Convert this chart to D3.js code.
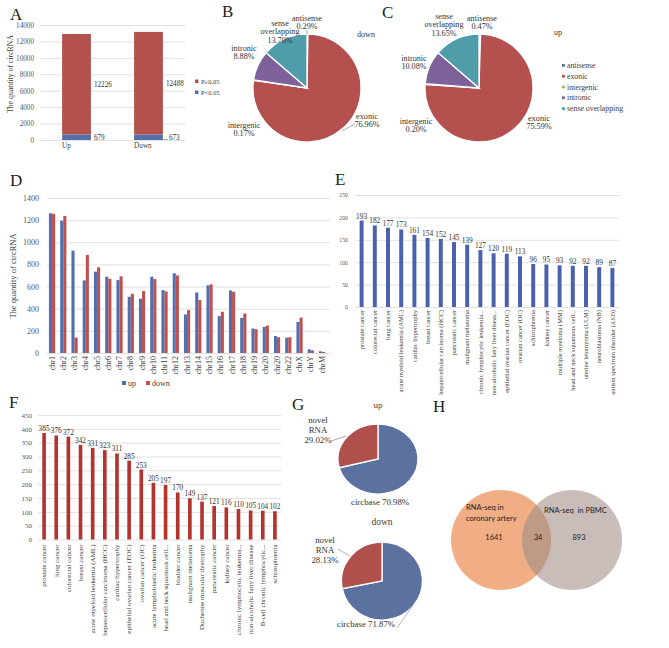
<!DOCTYPE html>
<html lang="en">
<head>
<meta charset="UTF-8">
<title>circRNA overview</title>
<script src="https://d3js.org/d3.v7.min.js"></script>
<style>
  body { margin: 0; background: #fff; }
  svg { display: block; font-family: "Liberation Serif", "Times New Roman", serif; }
</style>
</head>
<body>
<script>
// ---- data ----
// A
const aGroups = ["Up", "Down"];
const aSig = [679, 673];          // P<0.05
const aNonSig = [12226, 12488];   // P>=0.05
const aTicks = [0, 2000, 4000, 6000, 8000, 10000, 12000, 14000];

// B / C
const typeNames = ["antisense", "exonic", "intergenic", "intronic", "sense overlapping"];
const typeDown = [0.29, 76.96, 0.17, 8.88, 13.70];
const typeUp = [0.47, 75.59, 0.20, 10.08, 13.65];

// D
const chrNames = ["chr1","chr2","chr3","chr4","chr5","chr6","chr7","chr8","chr9","chr10","chr11","chr12",
  "chr13","chr14","chr15","chr16","chr17","chr18","chr19","chr20","chr20","chr22","chrX","chrY","chrM"];
const chrUp = [1262, 1194, 925, 656, 735, 689, 659, 508, 490, 689, 568, 720, 348, 547, 611, 333, 565, 317, 221, 236, 154, 139, 281, 33, 15];
const chrDown = [1257, 1238, 140, 886, 774, 671, 692, 535, 559, 668, 556, 701, 387, 478, 620, 372, 553, 357, 215, 248, 142, 142, 320, 24, 9];
const dTicks = [0, 200, 400, 600, 800, 1000, 1200, 1400];

// E
const eNames = ["prostate cancer", "colorectal cancer", "lung cancer", "acute myeloid leukemia (AML)",
  "cardiac hypertrophy", "breast cancer", "hepatocellular carcinoma (HCC)", "pancreatic cancer",
  "malignant melanoma", "chronic lymphocytic leukemia...", "non-alcoholic fatty liver diseas...",
  "epithelial ovarian cancer (EOC)", "ovarian cancer (OC)", "schizophrenia", "kidney cancer",
  "multiple myeloma (MM)", "head and neck squamous cell...", "uterine leiomyoma (ULM)",
  "neuroblastoma (NB)", "autism spectrum disorder (ASD)"];
const eCounts = [193, 182, 177, 173, 161, 154, 152, 145, 139, 127, 120, 119, 113, 96, 95, 93, 92, 92, 89, 87];
const eTicks = [0, 50, 100, 150, 200, 250];

// F
const fNames = ["prostate cancer", "lung cancer", "colorectal cancer", "breast cancer",
  "acute myeloid leukemia (AML)", "hepatocellular carcinoma (HCC)", "cardiac hypertrophy",
  "epithelial ovarian cancer (EOC)", "ovarian cancer (OC)", "acute lymphoblastic leukemia",
  "head and neck squamous cell...", "bladder cancer", "malignant melanoma", "Duchenne muscular dystrophy",
  "pancreatic cancer", "kidney cancer", "chronic lymphocytic leukemia...", "non-alcoholic fatty liver disease",
  "B-cell chronic lymphocytic...", "schizophrenia"];
const fCounts = [385, 376, 372, 342, 331, 323, 311, 285, 253, 205, 197, 170, 149, 137, 121, 116, 110, 105, 104, 102];
const fTicks = [0, 50, 100, 150, 200, 250, 300, 350, 400, 450];

// G
const gNames = ["circbase", "novel RNA"];
const gUp = [70.98, 29.02];
const gDown = [71.87, 28.13];

// H
const vennSets = ["RNA-seq in coronary artery", "RNA-seq  in PBMC"];
const vennCounts = [1641, 34, 893];

// ---- drawing ----
const typeColors = ["#4f6bab", "#b4504d", "#9bbb59", "#7d619b", "#4f9dab"];
const pct = v => d3.format(".2f")(v) + "%";

const svg = d3.select("body").append("svg").attr("width", 669).attr("height", 648);
svg.append("rect").attr("width", 669).attr("height", 648).attr("fill", "#fff");

function yGrid(y, x0, x1, ticks, fs, pad) {
  const ax = svg.append("g").attr("transform", `translate(${x0},0)`)
    .call(d3.axisLeft(y).tickValues(ticks).tickSize(-(x1 - x0)).tickPadding(pad).tickFormat(d3.format("d")));
  ax.select(".domain").remove();
  ax.selectAll("line").attr("stroke", "#d9d9d9").attr("stroke-width", 0.8);
  ax.selectAll("text").attr("font-size", fs).attr("fill", "#595959").attr("font-family", "Liberation Serif");
}

function xLabels(x, y0, fs, off, fmt) {
  const ax = svg.append("g").attr("transform", `translate(0,${y0})`)
    .call(d3.axisBottom(x).tickSize(0).tickFormat(fmt));
  ax.select(".domain").remove();
  ax.selectAll("text").attr("transform", "rotate(-90)").attr("text-anchor", "end")
    .attr("x", -off).attr("y", 0).attr("dy", "0.33em")
    .attr("font-size", fs).attr("fill", "#404040").attr("font-family", "Liberation Serif");
}

function txt(x, y, s, fs, anchor, fill) {
  return svg.append("text").attr("x", x).attr("y", y).attr("font-size", fs)
    .attr("text-anchor", anchor || "middle").attr("fill", fill || "#333").text(s);
}

function leader(x1, y1, x2, y2) {
  svg.append("line").attr("x1", x1).attr("y1", y1).attr("x2", x2).attr("y2", y2)
    .attr("stroke", "#777").attr("stroke-width", 0.6);
}

// panel letters
[["A", 10, 20], ["B", 222, 17], ["C", 382, 18], ["D", 10, 186], ["E", 335, 185],
 ["F", 9, 408], ["G", 292, 410], ["H", 433, 412]].forEach(([s, x, y]) =>
  txt(x, y, s, 17, "start", "#222"));

// ---- A: stacked bars ----
{
  const y = d3.scaleLinear().domain([0, 14000]).range([140, 25]);
  const x = d3.scaleBand().domain(aGroups).range([40.5, 184.5]).paddingInner(0.6).paddingOuter(0.3);
  yGrid(y, 40, 185, aTicks, 7.2, 6);
  const rows = aGroups.map((g, i) => ({ group: g, sig: aSig[i], non: aNonSig[i] }));
  const series = d3.stack().keys(["sig", "non"])(rows);
  const col = { sig: "#5470aa", non: "#b3514f" };
  series.forEach(s => {
    svg.append("g").selectAll("rect").data(s).join("rect")
      .attr("x", d => x(d.data.group)).attr("width", x.bandwidth())
      .attr("y", d => y(d[1])).attr("height", d => y(d[0]) - y(d[1]))
      .attr("fill", col[s.key]);
    svg.append("g").selectAll("text").data(s).join("text")
      .attr("x", (d, i) => x(d.data.group) + x.bandwidth() + (s.key === "sig" && i === 1 ? 6 : 3))
      .attr("y", d => y((d[0] + d[1]) / 2)).attr("dy", "0.35em")
      .attr("font-size", 7.2).attr("fill", "#333")
      .text(d => d[1] - d[0]);
  });
  leader(x("Down") + x.bandwidth(), 139.5, x("Down") + x.bandwidth() + 5, 139.5);
  aGroups.forEach(g => txt(x(g), 148, g, 7.2, "start", "#404040"));
  txt(0, 0, "The quantity of circRNA", 7.8, "middle", "#404040")
    .attr("transform", "translate(13,74) rotate(-90)");
  [["P\u22650.05", "#b3514f", 84], ["P<0.05", "#5470aa", 95]].forEach(([s, c, yy]) => {
    svg.append("rect").attr("x", 195).attr("y", yy - 4.5).attr("width", 3.5).attr("height", 3.5).attr("fill", c);
    txt(201, yy, s, 6.5, "start", "#404040");
  });
}

// ---- B / C pies ----
function typePie(cx, cy, r, vals, labels, title) {
  const arcs = d3.pie().sort(null).value(d => d)(vals);
  const arc = d3.arc().innerRadius(0).outerRadius(r);
  svg.append("g").attr("transform", `translate(${cx},${cy})`)
    .selectAll("path").data(arcs).join("path")
    .attr("d", arc).attr("fill", (d, i) => typeColors[i])
    .attr("stroke", "#fff").attr("stroke-width", 1.3);
  labels.forEach(l => {
    const i = typeNames.indexOf(l.name);
    const lines = l.name === "sense overlapping" ? ["sense", "overlapping"] : [l.name];
    lines.concat([pct(vals[i])]).forEach((s, k) =>
      txt(cx + l.dx, cy + l.dy + k * 8.3, s, 8.2, "middle", "#333"));
  });
  txt(title[1], title[2], title[0], 8.2, "middle", "#404040");
}
typePie(307, 88, 54, typeDown, [
  { name: "antisense", dx: 0, dy: -67 },
  { name: "sense overlapping", dx: -27, dy: -62 },
  { name: "intronic", dx: -63, dy: -37 },
  { name: "intergenic", dx: -63, dy: 40 },
  { name: "exonic", dx: 60, dy: 31 }
], ["down", 366, 37]);
leader(307, 30, 307, 35);
leader(355, 124, 342, 131);

typePie(479, 88, 54, typeUp, [
  { name: "antisense", dx: 3, dy: -67 },
  { name: "sense overlapping", dx: -35, dy: -69 },
  { name: "intronic", dx: -65, dy: -27 },
  { name: "intergenic", dx: -63, dy: 36 },
  { name: "exonic", dx: 60, dy: 33 }
], ["up", 558, 35]);

typeNames.forEach((n, i) => {
  const yy = 68 + i * 10.8;
  svg.append("rect").attr("x", 562).attr("y", yy - 4).attr("width", 2.8).attr("height", 2.8).attr("fill", typeColors[i]);
  txt(567, yy, n, 7.8, "start", "#404040");
});

// ---- D: grouped bars ----
{
  const y = d3.scaleLinear().domain([0, 1400]).range([353, 198]);
  const idx = d3.range(chrNames.length);
  const x = d3.scaleBand().domain(idx).range([46.7, 327.4]).paddingInner(0.45).paddingOuter(0.2);
  const sub = d3.scaleBand().domain(["up", "down"]).range([0, x.bandwidth()]);
  yGrid(y, 47, 330, dTicks, 8, 8);
  const rows = idx.map(i => [{ k: "up", v: chrUp[i], i }, { k: "down", v: chrDown[i], i }]).flat();
  svg.append("g").selectAll("rect").data(rows).join("rect")
    .attr("x", d => x(d.i) + sub(d.k)).attr("width", sub.bandwidth())
    .attr("y", d => y(d.v)).attr("height", d => y(0) - y(d.v))
    .attr("fill", d => d.k === "up" ? "#4f6fb0" : "#c0504d");
  xLabels(x, 353, 8, 3, i => chrNames[i]);
  txt(0, 0, "The quantity of circRNA", 8.5, "middle", "#404040")
    .attr("transform", "translate(16,276) rotate(-90)");
  [["up", "#4f6fb0", 122], ["down", "#c0504d", 146]].forEach(([s, c, xx]) => {
    svg.append("rect").attr("x", xx).attr("y", 381).attr("width", 4).attr("height", 4).attr("fill", c);
    txt(xx + 6, 386, s, 8, "start", "#404040");
  });
}

// ---- E / F: single-series bars ----
function singleBars(names, counts, ticks, y, gx0, gx1, color, tickFs, tickPad, labFs, valFs, labOff) {
  const x = d3.scaleBand().domain(names).range([gx0, gx1]).paddingInner(0.7).paddingOuter(0.35);
  yGrid(y, gx0, gx1, ticks, tickFs, tickPad);
  const rows = names.map((n, i) => ({ n, v: counts[i] }));
  svg.append("g").selectAll("rect").data(rows).join("rect")
    .attr("x", d => x(d.n)).attr("width", x.bandwidth())
    .attr("y", d => y(d.v)).attr("height", d => y(0) - y(d.v)).attr("fill", color);
  svg.append("g").selectAll("text").data(rows).join("text")
    .attr("x", d => x(d.n) + x.bandwidth() / 2).attr("y", d => y(d.v) - 2)
    .attr("text-anchor", "middle").attr("font-size", valFs).attr("fill", "#333").text(d => d.v);
  xLabels(x, y(0), labFs, labOff, d => d);
}
singleBars(eNames, eCounts, eTicks, d3.scaleLinear().domain([0, 250]).range([307, 195]),
  355, 619, "#4a62ad", 5.8, 7, 6.5, 7.3, 3);
singleBars(fNames, fCounts, fTicks, d3.scaleLinear().domain([0, 450]).range([539.5, 415]),
  38, 281, "#b3332f", 7, 6, 7, 7.3, 5);

// ---- G: two small pies ----
function smallPie(cx, cy, rx, ry, vals) {
  const arcs = d3.pie().sort(null).value(d => d)(vals);
  const arc = d3.arc().innerRadius(0).outerRadius(rx);
  svg.append("g").attr("transform", `translate(${cx},${cy}) scale(1,${ry / rx})`)
    .selectAll("path").data(arcs).join("path")
    .attr("d", arc).attr("fill", (d, i) => i === 0 ? "#5b72a0" : "#b0504c")
    .attr("stroke", "#fff").attr("stroke-width", 1.3).attr("vector-effect", "non-scaling-stroke");
}
smallPie(378, 459, 40, 35, gUp);
txt(378, 408, "up", 9, "middle", "#404040");
["novel", "RNA", pct(gUp[1])].forEach((s, k) => txt(318, 423 + k * 10, s, 8.8, "middle", "#333"));
leader(331, 441, 346, 436);
txt(351, 505, gNames[0] + "  " + pct(gUp[0]), 8.8, "start", "#333");

smallPie(382, 581, 40.5, 39, gDown);
txt(382, 525, "down", 9.5, "middle", "#404040");
["novel", "RNA", pct(gDown[1])].forEach((s, k) => txt(325, 543 + k * 9.8, s, 8.8, "middle", "#333"));
leader(338, 549, 350, 556);
txt(337, 627, gNames[0] + " " + pct(gDown[0]), 8.8, "start", "#333");
leader(397, 628, 413, 605);

// ---- H: venn ----
{
  const r = 50, cy = 540, cl = 501, cr = 572;
  const defs = svg.append("defs");
  defs.append("clipPath").attr("id", "leftClip").append("circle").attr("cx", cl).attr("cy", cy).attr("r", r);
  svg.append("circle").attr("cx", cl).attr("cy", cy).attr("r", r).attr("fill", "#f1ad84");
  svg.append("circle").attr("cx", cr).attr("cy", cy).attr("r", r).attr("fill", "#c9bdb9");
  svg.append("circle").attr("cx", cr).attr("cy", cy).attr("r", r).attr("fill", "#bf9a84")
    .attr("clip-path", "url(#leftClip)");
  const sans = "Lato, 'Open Sans', sans-serif";
  txt(466, 510, "RNA-seq in", 7.5, "start", "#222").attr("font-family", sans);
  txt(466, 521, vennSets[0].replace("RNA-seq in ", ""), 7.5, "start", "#222").attr("font-family", sans);
  txt(544, 513, vennSets[1], 7.5, "start", "#222").attr("font-family", sans).attr("xml:space", "preserve");
  [[494, vennCounts[0]], [538, vennCounts[1]], [579, vennCounts[2]]].forEach(([xx, v]) =>
    txt(xx, 540, v, 7.5, "middle", "#222").attr("font-family", sans));
}
</script>
</body>
</html>
